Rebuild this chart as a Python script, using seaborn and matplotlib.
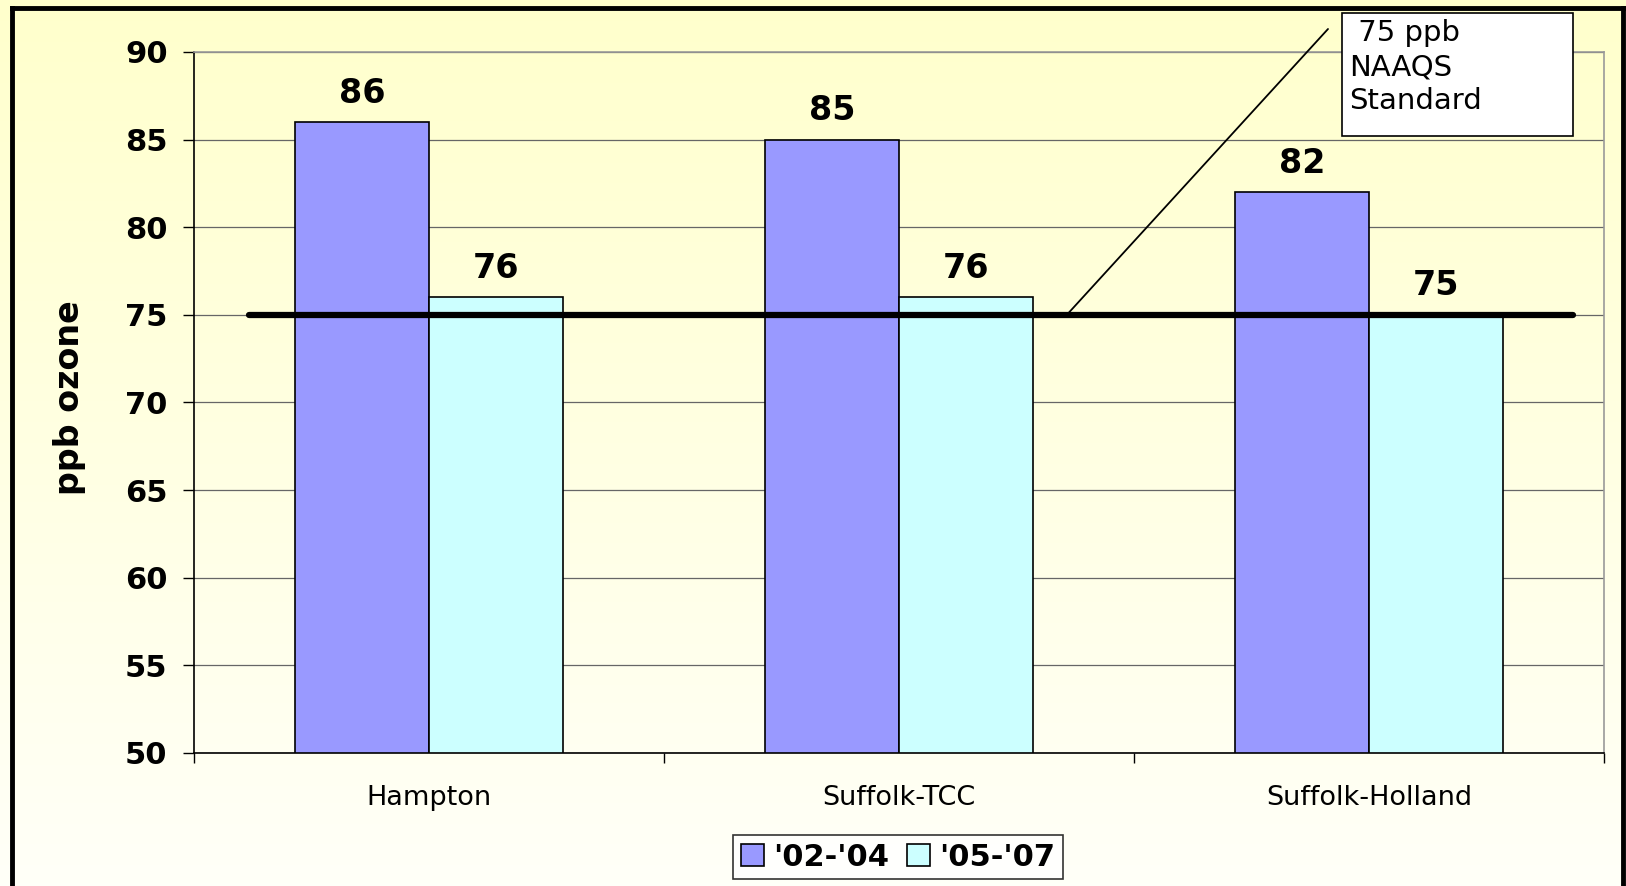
"""Ozone design values by site vs the 75 ppb NAAQS standard."""

import matplotlib
matplotlib.use("Agg")

import matplotlib.pyplot as plt
from matplotlib.lines import Line2D
from matplotlib.patches import Patch, Rectangle
import numpy as np
import pandas as pd
import seaborn as sns

sites = ["Hampton", "Suffolk-TCC", "Suffolk-Holland"]
periods = ["'02-'04", "'05-'07"]
values_0204 = [86, 85, 82]
values_0507 = [76, 76, 75]
standard_ppb = 75
y_ticks = [50, 55, 60, 65, 70, 75, 80, 85, 90]

bar_colors = ["#9999FF", "#CCFFFF"]

df = pd.DataFrame({
    "site": sites * 2,
    "period": [periods[0]] * len(sites) + [periods[1]] * len(sites),
    "ppb": values_0204 + values_0507,
})

sns.set_style("white")
plt.rcParams["font.family"] = ["DejaVu Sans"]
plt.rcParams["text.color"] = "black"
plt.rcParams["xtick.color"] = "black"
plt.rcParams["ytick.color"] = "black"

W, H = 1626, 886
fig = plt.figure(figsize=(W / 100, H / 100), dpi=100)

# pale yellow gradient behind everything
bg = fig.add_axes([0, 0, 1, 1], zorder=-10)
top = np.array([255, 255, 204]) / 255
bottom = np.array([255, 255, 248]) / 255
t = np.linspace(0, 1, 256)[:, None]
grad = top * (1 - t) + bottom * t
bg.imshow(grad[:, None, :], aspect="auto", extent=[0, 1, 0, 1])
bg.axis("off")

ax = fig.add_axes([194 / W, 1 - 753 / H, 1410 / W, 701 / H])
ax.set_facecolor("none")
sns.barplot(
    data=df, x="site", y="ppb", hue="period", palette=bar_colors,
    width=0.57, edgecolor="black", linewidth=1.2, saturation=1,
    legend=False, ax=ax,
)

ax.set_ylim(50, 90)
ax.set_xlim(-0.5, 2.5)
ax.set_yticks(y_ticks)
ax.yaxis.grid(True, color="#666666", lw=0.9)
ax.set_axisbelow(True)
ax.set_xlabel("")
ax.set_ylabel("")

for side in ["left", "bottom"]:
    ax.spines[side].set_color("black")
    ax.spines[side].set_linewidth(1.2)
for side in ["top", "right"]:
    ax.spines[side].set_color("#999999")
    ax.spines[side].set_linewidth(1.2)

ax.tick_params(axis="y", left=True, length=8, width=1, color="black",
               pad=11, labelsize=22, labelcolor="black")
for lbl in ax.get_yticklabels():
    lbl.set_fontweight("bold")
ax.set_xticks([-0.5, 0.5, 1.5, 2.5], minor=True)
ax.tick_params(axis="x", which="major", bottom=False, length=0, pad=23,
               labelsize=19.5, labelcolor="black")
ax.tick_params(axis="x", which="minor", bottom=True, length=7, width=1,
               color="black")

for c in ax.containers:
    ax.bar_label(c, fmt="%d", padding=9, fontsize=24, fontweight="bold",
                 color="black")

# NAAQS standard line + callout
ax.axhline(standard_ppb, xmin=55 / 1410, xmax=1379 / 1410, color="black",
           lw=4.5, zorder=5)
ax.annotate("", xy=(1.357, standard_ppb), xycoords="data",
            xytext=(1328, H - 29), textcoords="figure pixels",
            arrowprops=dict(arrowstyle="-", color="black", lw=1.3,
                            shrinkA=0, shrinkB=0))
fig.add_artist(Rectangle((1342 / W, 1 - 136 / H), 231 / W, 123 / H,
                         transform=fig.transFigure, facecolor="white",
                         edgecolor="black", lw=1.2, zorder=6))
fig.text(1349 / W, 1 - 19 / H, " 75 ppb\nNAAQS\nStandard", ha="left",
         va="top", fontsize=21, linespacing=1.28, zorder=7)

fig.text(70 / W, 1 - 398 / H, "ppb ozone", rotation=90, ha="center",
         va="center", fontsize=24, fontweight="bold")

handles = [Patch(facecolor=col, edgecolor="black", lw=1.2) for col in bar_colors]
leg = fig.legend(handles, periods, loc="center",
                 bbox_to_anchor=(898 / W, 1 - 857 / H), ncol=2,
                 frameon=True, fancybox=False, edgecolor="black",
                 prop=dict(weight="bold", size=22), handlelength=0.75,
                 handleheight=0.75, handletextpad=0.3, columnspacing=0.6,
                 borderpad=0.25, borderaxespad=0)
leg.get_frame().set_linewidth(1.2)
leg.get_frame().set_facecolor("white")

# black frame around the whole chart (no bottom edge)
y_top = 1 - 8 / H
for xs, ys in [([12 / W, 12 / W], [0, y_top]),
               ([12 / W, 1623 / W], [y_top, y_top]),
               ([1623 / W, 1623 / W], [y_top, 0])]:
    fig.add_artist(Line2D(xs, ys, transform=fig.transFigure, color="black",
                          lw=3.5, solid_capstyle="projecting"))

plt.savefig("out.png", dpi=100)
plt.close()
